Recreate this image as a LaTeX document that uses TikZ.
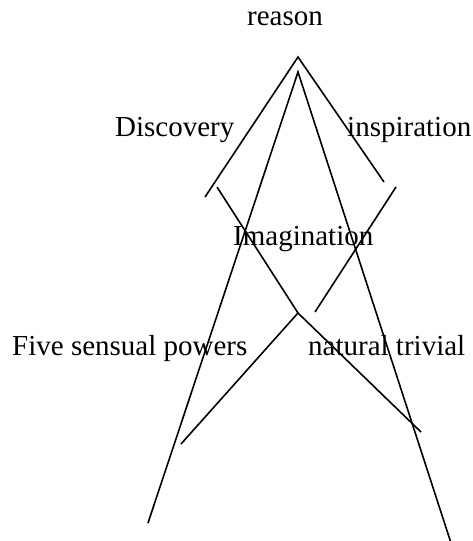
\documentclass[tikz,border=0pt]{standalone}
\usepackage{fontspec}
\setmainfont{Liberation Serif}
\begin{document}
\begin{tikzpicture}[x=1pt,y=-1pt,
  lbl/.style={anchor=base west,inner sep=0pt,font=\fontsize{29}{35}\selectfont},
  ln/.style={line width=1.6pt,black}]
\useasboundingbox (0,0) rectangle (472,541);
% labels
\node[lbl] (reason) at (247,25) {reason};
\node[lbl] (disc) at (115,136) {Discovery};
\node[lbl] (insp) at (347,136) {inspiration};
\node[lbl] (imag) at (233,245) {Imagination};
\node[lbl] (five) at (12,355) {Five sensual powers};
\node[lbl] (nat) at (308,355) {natural trivial};
% points
\coordinate (A) at (298,57);
\coordinate (L1) at (205,197);
\coordinate (R1) at (384,182);
\coordinate (B) at (298,72);
\coordinate (BL) at (148,523);
\coordinate (BR) at (451,543);
\coordinate (S1) at (217,187);
\coordinate (J) at (298,313);
\coordinate (S2) at (396,187);
\coordinate (S2e) at (315,312);
\coordinate (JL) at (181,444);
\coordinate (JR) at (421,432);
% lines
\draw[ln] (L1) -- (A) -- (R1);
\draw[ln] (BL) -- (B) -- (BR);
\draw[ln] (S1) -- (J);
\draw[ln] (S2) -- (S2e);
\draw[ln] (JL) -- (J) -- (JR);
\end{tikzpicture}
\end{document}
